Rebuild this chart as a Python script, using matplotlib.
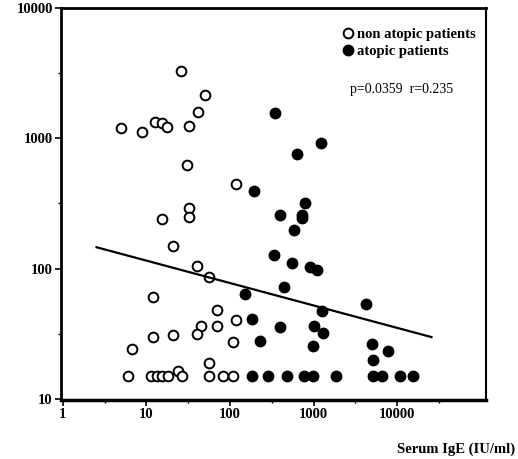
import numpy as np
import matplotlib.pyplot as plt
from matplotlib.ticker import FixedLocator, NullFormatter

plt.rcParams['font.family'] = ['Liberation Serif', 'DejaVu Serif']

# non atopic patients (open circles)
non_x = [26, 50, 41, 5, 8.8, 12.7, 15.5, 17.8, 32, 30.5, 119, 32.3, 32.3, 15.3,
         20.6, 40.6, 56.5, 12, 70.5, 118, 70.5, 45, 40.6, 20.6, 12, 108, 6.8, 56.5,
         6.05, 11.5, 13.3, 15.2, 18.2, 24, 26.4, 56.5, 83, 108]
non_y = [3300, 2150, 1580, 1200, 1120, 1330, 1310, 1230, 1240, 620, 445, 290, 248, 242,
         148, 105, 86, 60, 48, 40, 36.5, 36.5, 31.7, 31, 29.7, 27.2, 24, 19,
         15, 15, 15, 15, 15, 16.5, 15, 15, 15, 15]

# atopic patients (filled circles)
atp_x = [343, 1230, 640, 194, 791, 397, 734, 734, 584, 337, 557, 908, 1091, 447,
         151, 1253, 182, 397, 1014, 1311, 229, 977, 4220, 4970, 7870, 5200,
         182, 283, 485, 769, 995, 1860, 5110, 6560, 10900, 15400]
atp_y = [1560, 916, 759, 397, 321, 260, 258, 244, 198, 126, 111, 103.5, 97.7, 72,
         64, 47.6, 41, 35.5, 36.3, 31.9, 27.9, 25.6, 53.3, 26.4, 23.1, 19.7,
         15, 15, 15, 15, 15, 15, 15, 15, 15, 15]

# regression line in log-log space: log10(y) = a + b*log10(x)
fit_a = 2.233
fit_b = -0.172
fit_range = [2.53, 25800]

x_ticks = [1, 10, 100, 1000, 10000]
y_ticks = [10, 100, 1000, 10000]

fig = plt.figure(figsize=(5.18, 4.59), dpi=100)
ax = fig.add_axes([61 / 518, 1 - 400 / 459, 425 / 518, 392 / 459])
ax.set_xscale('log')
ax.set_yscale('log')

ax.plot(non_x, non_y, 'o', ms=7, mfc='white', mec='black', mew=1.4,
        ls='none', label='non atopic patients')
ax.plot(atp_x, atp_y, 'o', ms=7.5, mfc='black', mec='black', mew=1,
        ls='none', label='atopic patients')

lx = np.logspace(np.log10(fit_range[0]), np.log10(fit_range[1]), 50)
ax.plot(lx, 10 ** (fit_a + fit_b * np.log10(lx)), c='black', lw=1.6)

ax.set_xlim(0.95, 1.16e5)
ax.set_ylim(9.8, 10000)

ax.xaxis.set_major_locator(FixedLocator(x_ticks))
ax.yaxis.set_major_locator(FixedLocator(y_ticks))
ax.set_xticklabels([str(v) for v in x_ticks])
ax.set_yticklabels([str(v) for v in y_ticks])
ax.xaxis.set_minor_locator(FixedLocator([10 ** (k + 0.5) for k in range(0, 5)]))
ax.yaxis.set_minor_locator(FixedLocator([10 ** (k + 0.5) for k in range(1, 4)]))
ax.xaxis.set_minor_formatter(NullFormatter())
ax.yaxis.set_minor_formatter(NullFormatter())
ax.tick_params(which='major', direction='out', length=4, width=1.2,
               labelsize=10.5, pad=2)
ax.tick_params(which='minor', direction='out', length=2, width=1)
for lab in ax.get_xticklabels() + ax.get_yticklabels():
    lab.set_fontweight('bold')

ax.spines['left'].set_linewidth(2)
ax.spines['bottom'].set_linewidth(2.5)
ax.spines['top'].set_linewidth(2)
ax.spines['right'].set_linewidth(1.5)

ax.legend(loc='upper right', bbox_to_anchor=(0.975, 0.95), frameon=False,
          prop={'size': 10.5, 'weight': 'bold'}, handlelength=0.6,
          handletextpad=0.3, labelspacing=0.3, borderpad=0, borderaxespad=0)
ax.text(0.68, 0.793, 'p=0.0359  r=0.235', transform=ax.transAxes,
        fontsize=10, va='center', ha='left')

fig.text(515 / 518, 1 - 449 / 459, 'Serum IgE (IU/ml)', ha='right', va='center',
         fontsize=10.5, fontweight='bold')

fig.savefig('out.png', dpi=100)
